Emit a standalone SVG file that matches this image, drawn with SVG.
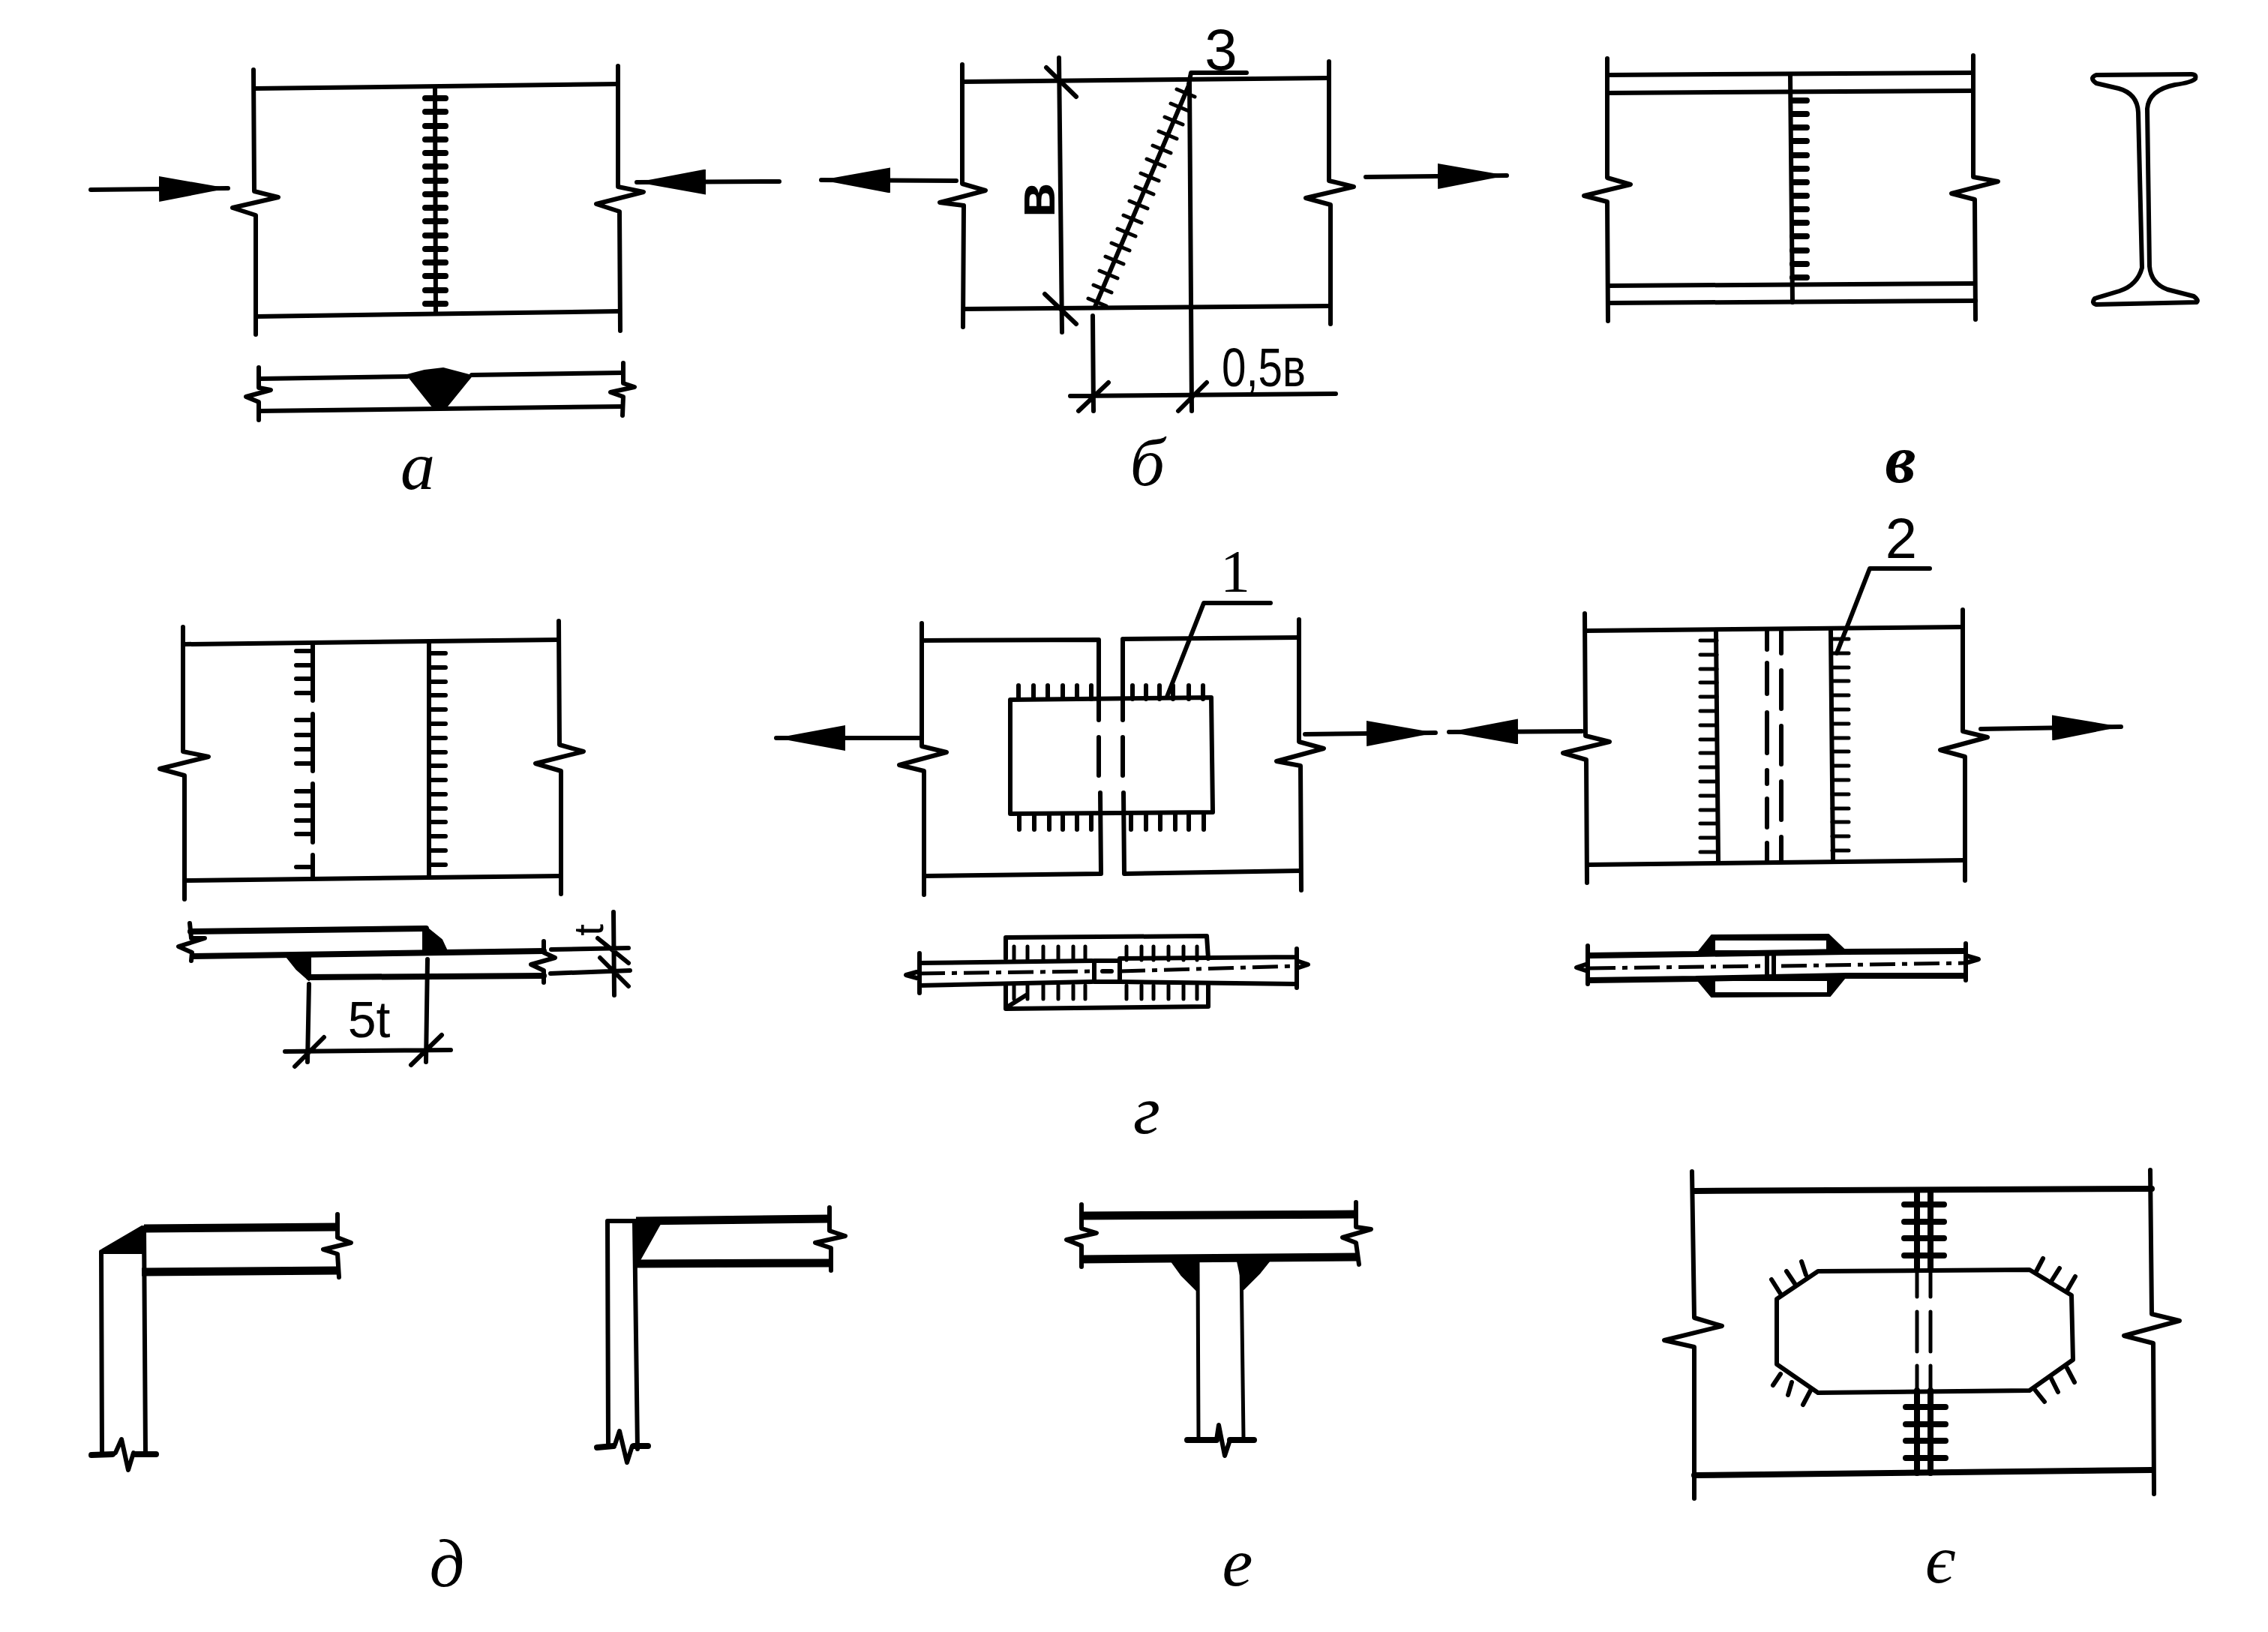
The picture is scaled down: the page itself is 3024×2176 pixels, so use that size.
<svg xmlns="http://www.w3.org/2000/svg" width="3024" height="2176" viewBox="0 0 3024 2176">
<style>
.l{fill:none;stroke:#000;stroke-width:6;stroke-linecap:round;stroke-linejoin:round}
.n{fill:none;stroke:#000;stroke-width:5;stroke-linecap:round;stroke-linejoin:round}
.m{fill:none;stroke:#000;stroke-width:8;stroke-linecap:round;stroke-linejoin:round}
.h{fill:none;stroke:#000;stroke-width:11;stroke-linecap:butt;stroke-linejoin:round}
.d{fill:none;stroke:#000;stroke-width:5;stroke-dasharray:34 9 7 9}
.k{fill:#000;stroke:#000;stroke-width:2;stroke-linejoin:round}
.w{fill:#fff;stroke:none}
.a{fill:none;stroke:#000;stroke-width:6;stroke-linecap:round;marker-end:url(#head)}
.cap{font-family:"Liberation Serif",serif;font-style:italic;font-size:92px;text-anchor:middle;fill:#000}
.num{font-family:"Liberation Sans",sans-serif;text-anchor:middle;fill:#000}
</style>
<defs>
<marker id="head" markerUnits="userSpaceOnUse" markerWidth="94" markerHeight="34" refX="92" refY="17" orient="auto">
<path d="M0 0L92 17L0 34Z" fill="#000"/>
</marker>
</defs>
<rect width="3024" height="2176" fill="#fff"/>

<g id="connectors">
<path class="a" d="M121 253L304 251"/>
<path class="a" d="M1039 242L849 243"/>
<path class="a" d="M1275 241L1095 240"/>
<path class="a" d="M1821 236L2009 234"/>
<path class="a" d="M1226 984L1035 984"/>
<path class="a" d="M1740 979L1914 977"/>
<path class="a" d="M2109 975L1932 976"/>
<path class="a" d="M2641 972L2828 969"/>
</g>

<g id="fig-a">
<path class="l" d="M338 93L339 255L371 263L310 277L341 287L341 446"/>
<path class="l" d="M824 88L824 249L858 256L795 272L826 282L827 441"/>
<path class="l" d="M339 118L824 112M342 422L826 415"/>
<path class="l" d="M580 118L581 417"/>
<path class="m" d="M567 131H594M567 149H594M567 168H594M567 186H594M567 204H594M567 222H594M567 241H594M567 259H594M567 277H594M567 295H594M567 314H594M567 332H594M567 350H594M567 368H594M567 387H594M567 405H594"/>
<path class="l" d="M345 490L345 517L361 520L328 529L345 536L345 560M831 484L831 511L846 516L814 523L831 529L830 554"/>
<path class="l" d="M346 505L543 502M629 500L830 497M346 548L830 542"/>
<path class="k" d="M543 500L566 494L591 491L629 501L594 544L578 544Z"/>
<text class="cap" x="557" y="652">а</text>
</g>

<g id="fig-b">
<path class="l" d="M1283 86L1283 245L1314 254L1253 270L1285 274L1284 436"/>
<path class="l" d="M1772 82L1772 241L1805 249L1741 264L1774 273L1774 432"/>
<path class="l" d="M1283 109L1771 104M1285 412L1773 408"/>
<path class="l" d="M1412 77L1416 443M1395 90L1435 129M1393 392L1435 432"/>
<path class="l" d="M1586 108L1589 548M1585 112L1588 97L1662 97"/>
<path class="l" d="M1457 421L1458 548M1427 528L1781 525M1438 548L1478 510M1571 548L1609 510"/>
<path class="l" d="M1585 114L1460 409"/>
<path class="n" d="M1569 119L1593 129M1561 138L1585 148M1553 156L1577 166M1545 175L1569 185M1537 194L1561 204M1529 212L1553 222M1521 231L1545 241M1514 249L1538 259M1506 268L1530 278M1498 287L1522 297M1490 305L1514 315M1482 324L1506 334M1474 342L1498 352M1466 361L1490 371M1458 380L1482 390M1451 398L1475 408"/>
<text class="num" x="1628" y="93" font-size="78">3</text>
<text class="num" x="1685" y="515" font-size="72" textLength="112" lengthAdjust="spacingAndGlyphs">0,5в</text>
<text class="num" x="1406" y="267" font-size="76" font-weight="bold" transform="rotate(-90 1406 267)">в</text>
<text class="cap" x="1530" y="647">б</text>
</g>

<g id="fig-v">
<path class="l" d="M2143 78L2143 237L2174 246L2112 261L2143 269L2144 428"/>
<path class="l" d="M2631 74L2631 236L2664 242L2602 258L2633 266L2634 426"/>
<path class="l" d="M2143 100L2631 97M2143 124L2631 121M2144 381L2632 378M2144 404L2634 401"/>
<path class="l" d="M2387 100L2390 403"/>
<path class="m" d="M2390 134H2409M2390 152H2409M2390 170H2409M2390 188H2409M2390 207H2409M2390 225H2409M2390 243H2409M2390 261H2409M2390 279H2409M2390 297H2409M2390 315H2409M2390 334H2409M2390 352H2409M2390 370H2409"/>
<path class="l" d="M2795 100L2922 99Q2929 99 2927 105Q2922 110 2900 113Q2865 120 2863 145L2866 355Q2868 378 2890 386L2925 395Q2932 400 2929 403L2795 406Q2788 404 2793 398L2826 388Q2850 380 2856 357L2851 150Q2850 125 2825 118L2795 111Q2785 104 2795 100Z"/>
<text class="cap" x="2534" y="643" font-weight="bold">в</text>
</g>

<g id="fig-g1">
<path class="l" d="M244 836L244 1002L278 1009L213 1025L246 1034L246 1199"/>
<path class="l" d="M745 828L746 993L778 1002L714 1018L748 1028L748 1192"/>
<path class="l" d="M245 859L745 853M247 1174L747 1168"/>
<path class="l" d="M417 859V934M417 952V1028M417 1045V1123M417 1140V1171M572 856L572 1169"/>
<path class="l" d="M395 868H417M395 887H417M395 905H417M395 924H417M395 960H417M395 980H417M395 999H417M395 1018H417M395 1055H417M395 1074H417M395 1094H417M395 1112H417M395 1156H417"/>
<path class="l" d="M572 871H594M572 890H594M572 909H594M572 927H594M572 946H594M572 965H594M572 984H594M572 1003H594M572 1021H594M572 1040H594M572 1059H594M572 1078H594M572 1096H594M572 1115H594M572 1134H594M572 1153H594"/>
<path class="m" d="M254 1242L568 1238M257 1275L725 1268M412 1303L725 1301"/>
<path class="l" d="M566 1238L566 1268M412 1277V1303"/>
<path class="l" d="M253 1231L255 1251L273 1251L238 1262L256 1270L255 1281M725 1255L725 1270L740 1277L708 1286L725 1294L725 1310"/>
<path class="k" d="M568 1236L589 1253L596 1268L565 1268Z"/>
<path class="k" d="M383 1277L412 1277L412 1307L395 1292Z"/>
<path class="l" d="M412 1312L410 1416M570 1279L568 1416M380 1402L601 1400M393 1422L432 1383M548 1420L589 1380"/>
<path class="l" d="M818 1216L819 1327M735 1266L838 1264M734 1298L840 1294M797 1251L838 1284M800 1277L838 1315"/>
<text class="num" x="492" y="1383" font-size="68">5t</text>
<text class="num" x="804" y="1240" font-size="56" transform="rotate(-90 804 1240)">t</text>
</g>

<g id="fig-g2">
<path class="l" d="M1229 831L1229 995L1262 1003L1199 1020L1232 1028L1232 1193"/>
<path class="l" d="M1732 826L1732 989L1765 998L1702 1015L1734 1021L1735 1187"/>
<path class="l" d="M1229 854L1465 853L1465 960M1465 983V1034M1467 1057L1468 1165L1232 1168"/>
<path class="l" d="M1732 850L1497 852L1497 960M1497 983V1034M1498 1057L1499 1165L1734 1161"/>
<path class="l" d="M1347 933L1615 930L1617 1083L1347 1085Z"/>
<path class="l" d="M1358 914V932M1378 914V932M1397 914V932M1417 914V932M1436 914V932M1455 914V932M1510 914V932M1528 914V932M1546 914V932M1564 914V932M1585 914V932M1604 914V932"/>
<path class="l" d="M1359 1085V1106M1379 1085V1106M1399 1085V1106M1417 1085V1106M1436 1085V1106M1455 1085V1106M1508 1085V1106M1528 1085V1106M1547 1085V1106M1567 1085V1106M1585 1085V1106M1605 1085V1106"/>
<path class="l" d="M1556 929L1605 804L1694 804"/>
<path class="l" d="M1341 1278L1341 1250L1609 1248L1611 1278M1341 1312L1341 1345L1611 1342L1611 1314"/>
<path class="l" d="M1226 1284L1456 1281M1493 1278L1729 1276M1226 1314L1456 1309M1493 1309L1729 1312M1226 1271V1324M1729 1265V1317M1208 1300L1226 1295L1226 1305ZM1744 1286L1729 1281L1729 1291Z"/>
<path class="d" d="M1226 1298L1456 1295M1493 1295L1729 1288"/>
<path class="l" d="M1459 1281H1493V1309H1459ZM1470 1295H1482"/>
<path class="n" d="M1352 1262V1280M1370 1262V1280M1391 1262V1280M1411 1262V1280M1431 1262V1280M1447 1262V1280M1502 1262V1280M1522 1262V1280M1538 1262V1280M1558 1262V1280M1578 1262V1280M1596 1262V1280"/>
<path class="n" d="M1352 1314V1332M1370 1314V1332M1391 1314V1332M1411 1314V1332M1431 1314V1332M1447 1314V1332M1502 1314V1332M1522 1314V1332M1538 1314V1332M1558 1314V1332M1578 1314V1332M1596 1314V1332"/>
<path class="l" d="M1344 1342L1368 1327"/>
<text class="num" x="1647" y="789" font-size="80" style="font-family:'Liberation Serif',serif">1</text>
<text class="cap" x="1529" y="1511">г</text>
</g>

<g id="fig-g3">
<path class="l" d="M2113 818L2114 981L2146 989L2084 1004L2115 1013L2116 1177"/>
<path class="l" d="M2617 813L2617 975L2650 983L2587 1000L2620 1009L2620 1174"/>
<path class="l" d="M2114 841L2617 836M2117 1153L2618 1147"/>
<path class="l" d="M2288 841L2291 1148M2441 841L2444 1147"/>
<path class="n" d="M2267 854H2289M2267 873H2289M2267 892H2289M2267 910H2289M2267 929H2289M2267 948H2289M2267 967H2289M2267 986H2289M2267 1004H2289M2267 1023H2289M2267 1042H2289M2267 1061H2289M2267 1080H2289M2267 1098H2289M2267 1117H2289M2267 1136H2289"/>
<path class="n" d="M2443 852H2465M2443 871H2465M2443 890H2465M2443 908H2465M2443 927H2465M2443 946H2465M2443 965H2465M2443 984H2465M2443 1002H2465M2443 1021H2465M2443 1040H2465M2443 1059H2465M2443 1078H2465M2443 1096H2465M2443 1115H2465M2443 1134H2465"/>
<path class="l" d="M2356 842V866M2356 884V925M2356 950V1004M2356 1027V1045M2356 1065V1103M2356 1124V1147M2375 842V871M2375 894V945M2375 968V1019M2375 1042V1093M2375 1116V1147"/>
<path class="l" d="M2449 871L2493 758L2573 758"/>
<path class="k" d="M2282 1247L2438 1246L2462 1269L2262 1272Z"/>
<path class="k" d="M2262 1305L2462 1301L2440 1328L2282 1329Z"/>
<path class="w" d="M2287 1254H2435V1267H2287ZM2287 1308H2436V1323H2287Z"/>
<path class="m" d="M2120 1274L2262 1272M2462 1269L2620 1268M2120 1307L2262 1305M2462 1301L2620 1301M2262 1272L2462 1269M2262 1305L2462 1301"/>
<path class="l" d="M2117 1261V1312M2621 1258V1307M2102 1290L2117 1285L2117 1295ZM2638 1279L2621 1274L2621 1284Z"/>
<path class="d" d="M2120 1291L2356 1288M2375 1288L2620 1284"/>
<path class="l" d="M2356 1274V1302M2365 1274V1302"/>
<text class="num" x="2535" y="744" font-size="76">2</text>
</g>

<g id="fig-d1">
<path class="l" d="M135 1669L136 1939M192 1637L194 1939"/>
<path class="m" d="M122 1940L150 1939M180 1939L208 1939"/>
<path class="l" d="M150 1939L154 1937L162 1919L171 1960L178 1937L180 1939"/>
<path class="h" d="M192 1638L450 1636M189 1696L452 1694"/>
<path class="l" d="M450 1619L450 1650L468 1657L431 1666L450 1672L452 1703"/>
<path class="k" d="M189 1635L194 1637L194 1671L135 1671L136 1666Z"/>
</g>

<g id="fig-d2">
<path class="l" d="M810 1628L811 1925M846 1628L850 1932M810 1628H848"/>
<path class="m" d="M796 1930L818 1928M845 1928L864 1928"/>
<path class="l" d="M818 1928L820 1926L826 1908L836 1950L843 1928"/>
<path class="h" d="M848 1628L1106 1625M846 1685L1108 1684"/>
<path class="l" d="M1106 1610L1106 1641L1127 1648L1087 1657L1108 1664L1108 1694"/>
<path class="k" d="M846 1628L880 1632L852 1682L846 1682Z"/>
<text class="cap" x="596" y="2115" font-size="100">д</text>
</g>

<g id="fig-e">
<path class="h" d="M1442 1621L1810 1619M1442 1679L1810 1676"/>
<path class="l" d="M1442 1606L1442 1638L1462 1644L1422 1653L1442 1661L1442 1689M1808 1603L1808 1636L1828 1639L1790 1650L1808 1657L1812 1686"/>
<path class="n" d="M1597 1682L1598 1917M1655 1682L1658 1917"/>
<path class="k" d="M1562 1682L1598 1682L1597 1722L1575 1700Z"/>
<path class="k" d="M1650 1682L1692 1682L1680 1697L1658 1719Z"/>
<path class="m" d="M1583 1920L1622 1920M1640 1920L1672 1920"/>
<path class="l" d="M1622 1920L1625 1900L1633 1941L1640 1920"/>
<text class="cap" x="1650" y="2114">е</text>
</g>

<g id="fig-ye">
<path class="l" d="M2256 1562L2259 1757L2296 1768L2219 1787L2259 1796L2259 1998"/>
<path class="l" d="M2867 1560L2869 1752L2906 1761L2832 1781L2871 1791L2872 1992"/>
<path class="m" d="M2259 1588L2869 1585M2259 1967L2869 1960"/>
<path class="l" d="M2424 1695L2706 1693L2762 1727L2764 1813L2706 1854L2424 1857L2369 1819L2369 1732Z"/>
<path class="m" d="M2556 1588V1693M2574 1588V1693M2556 1854V1964M2574 1854V1964"/>
<path class="n" d="M2556 1693V1729M2574 1693V1729M2556 1749V1802M2574 1749V1802M2556 1821V1854M2574 1821V1854"/>
<path class="m" d="M2539 1606H2592M2539 1629H2592M2539 1651H2592M2539 1674H2592M2541 1876H2594M2541 1899H2594M2541 1921H2594M2541 1944H2594"/>
<path class="l" d="M2402 1682L2408 1700M2382 1695L2394 1713M2362 1706L2374 1725M2724 1678L2714 1697M2746 1691L2734 1710M2767 1702L2756 1721M2374 1832L2364 1847M2389 1843L2384 1860M2414 1854L2404 1873M2756 1824L2766 1843M2734 1836L2744 1856M2714 1854L2726 1869"/>
<text class="cap" x="2587" y="2110">є</text>
</g>
</svg>
